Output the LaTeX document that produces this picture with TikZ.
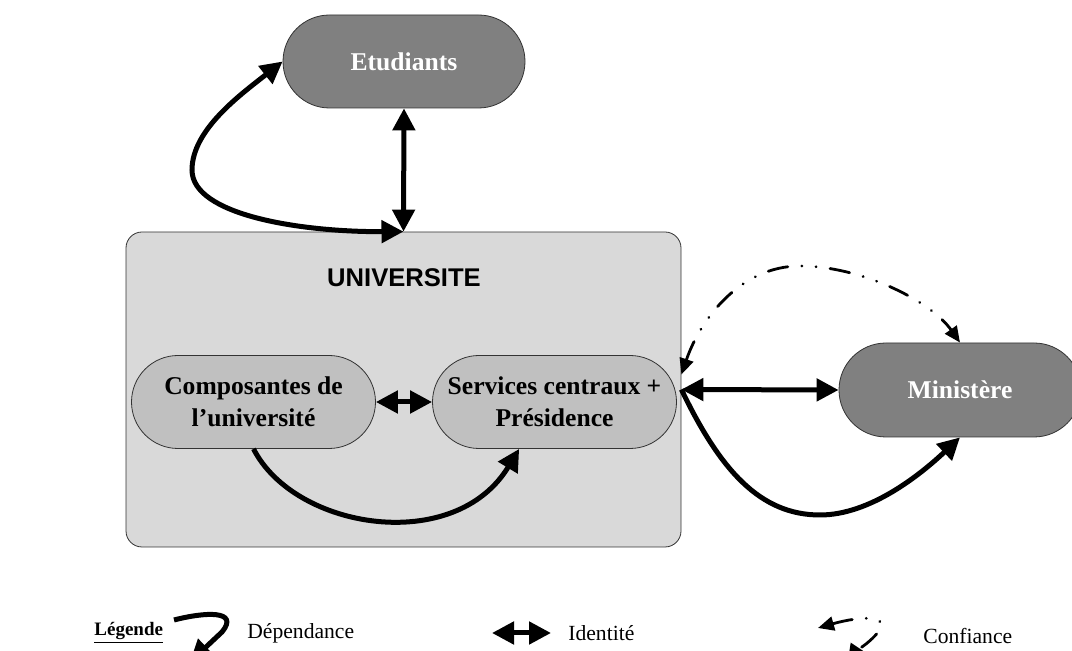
\documentclass[tikz,border=0pt]{standalone}
\usepackage{fontspec}
\setmainfont{Liberation Serif}
\setsansfont{Liberation Sans}
\usepackage{xcolor}
\usetikzlibrary{arrows.meta}
\definecolor{fonce}{RGB}{128,128,128}
\definecolor{moyen}{RGB}{192,192,192}
\definecolor{clair}{RGB}{217,217,217}

\begin{document}
\begin{tikzpicture}[x=0.5pt,y=-0.5pt,
  grosse/.tip={Triangle[length=11pt,width=11pt]},
  petite/.tip={Triangle[length=8pt,width=7pt]},
  pill/.style={draw=black!80,thin,rounded corners=23.25pt,minimum width=122pt,minimum height=46.5pt,
    inner sep=0pt,align=center,font=\fontsize{12.8}{16}\selectfont\bfseries},
  dep/.style={line width=2.5pt},
  conf/.style={line width=1.4pt,line cap=round,dash pattern=on 10pt off 7pt on 0.1pt off 7pt on 0.1pt off 7pt},
  leg/.style={anchor=west,inner sep=0pt,font=\fontsize{10.8}{13}\selectfont}]
\useasboundingbox (0,0) rectangle (1072,651);

\node[pill,fill=fonce,text=white,minimum width=121pt] (etud) at (404,61.5) {Etudiants};
\node[draw=black!80,thin,fill=clair,rounded corners=8pt,minimum width=277.5pt,minimum height=157.5pt] (univ) at (403.5,389.5) {};
\node[font=\sffamily\bfseries\fontsize{12.8}{15}\selectfont] (titre) at (404,278) {UNIVERSITE};
\node[pill,fill=moyen] (compo) at (253.5,402) {Composantes de\\l’université};
\node[pill,fill=moyen] (servc) at (554.5,402) {Services centraux +\\Présidence};
\node[pill,fill=fonce,text=white,minimum width=121pt,minimum height=47pt,rounded corners=23.5pt] (mini) at (960,390) {Ministère};

% identite
\draw[dep,grosse-grosse] (etud.south) -- (univ.north);
\draw[dep,grosse-grosse] (compo.east) -- (servc.west);
\draw[dep,grosse-grosse] (univ.east) -- (mini.west);
% dependance
\draw[dep,grosse-grosse] (etud.west) .. controls (240,95) and (192,130) .. (192,170)
  .. controls (192,215) and (300,232) .. (univ.north);
\draw[dep,-grosse] (compo.south) .. controls (295,530) and (455,555) .. (servc.-127);
\draw[dep,-grosse] (univ.east) .. controls (720,470) and (760,515) .. (820,515)
  .. controls (870,515) and (920,475) .. (mini.south);
% confiance
\draw[conf,petite-petite] ([yshift=7.5pt]univ.east) .. controls (700,320) and (740,266) .. (800,266)
  .. controls (860,266) and (930,300) .. (mini.north);

% legende
\node[leg,font=\fontsize{9.5}{12}\selectfont\bfseries] (legende) at (94,633) {\underline{Légende}};
\draw[dep,-grosse] (174,620) .. controls (205,612) and (240,610) .. (222,632) -- (190,662);
\node[leg] (ldep) at (247,633) {Dépendance};
\draw[dep,grosse-grosse] (492,633) -- (551,633);
\node[leg] (lid) at (568,633) {Identité};
\draw[conf,petite-petite] (818,628) .. controls (860,616) and (905,612) .. (866,644)
  .. controls (858,650) and (852,654) .. (848,660);
\node[leg] (lconf) at (923,636) {Confiance};
\end{tikzpicture}
\end{document}
